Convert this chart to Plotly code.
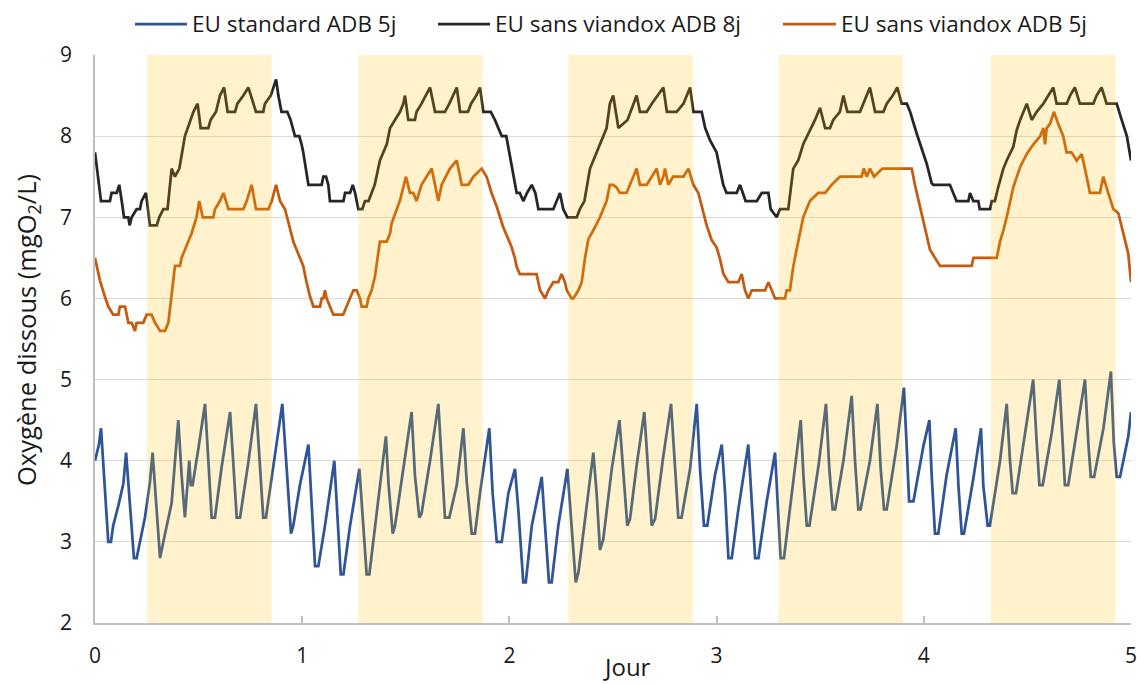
import plotly.graph_objects as go

# Time axis in days, dissolved oxygen in mgO2/L
std_x = [0, 0.008, 0.019, 0.029, 0.04, 0.053, 0.064, 0.077, 0.088, 0.113, 0.137, 0.15, 0.158, 0.177, 0.188, 0.201,
         0.217, 0.241, 0.265, 0.278, 0.294, 0.314, 0.338, 0.37, 0.402, 0.418, 0.434, 0.455, 0.462, 0.471, 0.499,
         0.531, 0.547, 0.563, 0.579, 0.611, 0.652, 0.668, 0.684, 0.7, 0.74, 0.777, 0.793, 0.812, 0.825, 0.861,
         0.904, 0.922, 0.946, 0.957, 0.989, 1.03, 1.046, 1.062, 1.078, 1.11, 1.155, 1.166, 1.186, 1.199, 1.231,
         1.276, 1.292, 1.311, 1.324, 1.359, 1.404, 1.417, 1.437, 1.448, 1.488, 1.528, 1.544, 1.565, 1.576, 1.617,
         1.657, 1.673, 1.689, 1.71, 1.746, 1.778, 1.794, 1.818, 1.834, 1.858, 1.903, 1.919, 1.939, 1.963, 1.995,
         2.027, 2.043, 2.067, 2.079, 2.108, 2.156, 2.172, 2.191, 2.204, 2.236, 2.28, 2.3, 2.32, 2.333, 2.365,
         2.405, 2.421, 2.437, 2.453, 2.494, 2.531, 2.55, 2.569, 2.582, 2.614, 2.651, 2.67, 2.687, 2.703, 2.743,
         2.78, 2.8, 2.815, 2.831, 2.872, 2.904, 2.92, 2.939, 2.955, 2.992, 3.025, 3.041, 3.057, 3.073, 3.105,
         3.153, 3.169, 3.186, 3.202, 3.242, 3.282, 3.298, 3.309, 3.325, 3.362, 3.406, 3.419, 3.435, 3.448, 3.492,
         3.528, 3.544, 3.56, 3.572, 3.612, 3.652, 3.668, 3.684, 3.695, 3.74, 3.776, 3.792, 3.808, 3.821, 3.869,
         3.904, 3.917, 3.929, 3.95, 3.998, 4.027, 4.038, 4.054, 4.07, 4.11, 4.154, 4.167, 4.183, 4.194, 4.239,
         4.276, 4.287, 4.308, 4.319, 4.368, 4.4, 4.416, 4.429, 4.445, 4.489, 4.528, 4.545, 4.558, 4.574, 4.617,
         4.654, 4.67, 4.681, 4.697, 4.737, 4.778, 4.794, 4.806, 4.822, 4.867, 4.903, 4.917, 4.931, 4.947, 4.963,
         4.987, 5.0]
std_y = [4.0, 4.1, 4.2, 4.4, 4.0, 3.4, 3.0, 3.0, 3.2, 3.45, 3.72, 4.1, 3.8, 3.1, 2.8, 2.8,
         3.0, 3.3, 3.73, 4.1, 3.52, 2.8, 3.1, 3.48, 4.5, 3.82, 3.3, 4.0, 3.7, 3.7, 4.15,
         4.7, 4.0, 3.3, 3.3, 3.92, 4.6, 3.94, 3.3, 3.3, 3.98, 4.7, 4.02, 3.3, 3.3, 3.92,
         4.7, 4.02, 3.1, 3.2, 3.7, 4.2, 3.5, 2.7, 2.7, 3.2, 4.0, 3.5, 2.6, 2.6, 3.2,
         3.9, 3.3, 2.6, 2.6, 3.35, 4.3, 3.7, 3.1, 3.2, 3.9, 4.6, 3.82, 3.3, 3.35, 4.0,
         4.7, 3.94, 3.3, 3.3, 3.7, 4.4, 3.74, 3.1, 3.1, 3.6, 4.4, 3.6, 3.0, 3.0, 3.6,
         3.9, 3.4, 2.5, 2.5, 3.2, 3.8, 3.2, 2.5, 2.5, 3.2, 3.9, 3.2, 2.5, 2.62, 3.28,
         4.1, 3.6, 2.9, 3.03, 3.9, 4.5, 3.8, 3.2, 3.28, 3.94, 4.6, 3.82, 3.2, 3.28, 4.06,
         4.7, 3.9, 3.3, 3.3, 3.9, 4.7, 3.9, 3.2, 3.2, 3.82, 4.2, 3.6, 2.8, 2.8, 3.4,
         4.2, 3.5, 2.8, 2.8, 3.5, 4.1, 3.4, 2.8, 2.8, 3.6, 4.5, 3.82, 3.2, 3.2, 3.94,
         4.7, 3.9, 3.4, 3.4, 4.0, 4.8, 4.0, 3.4, 3.4, 4.0, 4.7, 3.9, 3.4, 3.4, 4.18,
         4.9, 4.2, 3.5, 3.5, 4.18, 4.5, 3.82, 3.1, 3.1, 3.82, 4.4, 3.7, 3.1, 3.1, 3.78,
         4.4, 3.7, 3.2, 3.2, 4.0, 4.7, 4.0, 3.6, 3.6, 4.34, 5.0, 4.22, 3.7, 3.7, 4.34,
         5.0, 4.22, 3.7, 3.7, 4.34, 5.0, 4.22, 3.8, 3.8, 4.4, 5.1, 4.22, 3.8, 3.8, 4.0,
         4.3, 4.6]

nv8_x = [0, 0.019, 0.029, 0.072, 0.08, 0.105, 0.117, 0.129, 0.14, 0.161, 0.167, 0.177, 0.201, 0.217, 0.225,
         0.246, 0.265, 0.298, 0.31, 0.33, 0.35, 0.37, 0.386, 0.407, 0.434, 0.475, 0.495, 0.51, 0.547, 0.558,
         0.584, 0.603, 0.623, 0.64, 0.676, 0.687, 0.716, 0.74, 0.777, 0.812, 0.82, 0.848, 0.874, 0.885, 0.9,
         0.928, 0.944, 0.965, 0.986, 0.997, 1.005, 1.03, 1.094, 1.102, 1.115, 1.126, 1.134, 1.199, 1.207, 1.231,
         1.244, 1.255, 1.271, 1.29, 1.303, 1.32, 1.335, 1.35, 1.375, 1.408, 1.424, 1.448, 1.472, 1.488, 1.496,
         1.512, 1.544, 1.552, 1.576, 1.617, 1.641, 1.689, 1.71, 1.746, 1.762, 1.8, 1.815, 1.84, 1.858, 1.874,
         1.91, 1.93, 1.963, 1.985, 2.0, 2.035, 2.05, 2.067, 2.085, 2.108, 2.125, 2.14, 2.212, 2.228, 2.244,
         2.26, 2.28, 2.325, 2.34, 2.362, 2.389, 2.405, 2.437, 2.469, 2.485, 2.501, 2.526, 2.57, 2.614, 2.63,
         2.663, 2.687, 2.743, 2.76, 2.807, 2.84, 2.872, 2.888, 2.928, 2.945, 2.968, 3.0, 3.032, 3.048, 3.097,
         3.113, 3.14, 3.162, 3.194, 3.218, 3.25, 3.261, 3.29, 3.306, 3.346, 3.37, 3.394, 3.418, 3.45, 3.475,
         3.499, 3.524, 3.547, 3.563, 3.595, 3.612, 3.631, 3.692, 3.708, 3.74, 3.765, 3.805, 3.821, 3.85, 3.872,
         3.893, 3.918, 3.934, 3.966, 3.982, 4.014, 4.038, 4.046, 4.126, 4.142, 4.158, 4.215, 4.223, 4.239, 4.263,
         4.27, 4.32, 4.328, 4.343, 4.359, 4.384, 4.4, 4.432, 4.448, 4.465, 4.497, 4.513, 4.521, 4.545, 4.577,
         4.601, 4.625, 4.641, 4.69, 4.706, 4.729, 4.753, 4.818, 4.834, 4.858, 4.882, 4.931, 4.955, 4.98, 5.0]
nv8_y = [7.8, 7.37, 7.2, 7.2, 7.3, 7.3, 7.4, 7.2, 7.0, 7.0, 6.9, 7.0, 7.1, 7.1, 7.2,
         7.3, 6.9, 6.9, 7.0, 7.1, 7.1, 7.6, 7.5, 7.6, 8.0, 8.3, 8.4, 8.1, 8.1, 8.2,
         8.3, 8.5, 8.6, 8.3, 8.3, 8.4, 8.5, 8.6, 8.3, 8.3, 8.4, 8.5, 8.7, 8.5, 8.3,
         8.3, 8.2, 8.0, 8.0, 7.9, 7.8, 7.4, 7.4, 7.5, 7.5, 7.4, 7.2, 7.2, 7.3, 7.3,
         7.4, 7.3, 7.1, 7.1, 7.2, 7.2, 7.3, 7.4, 7.7, 7.9, 8.1, 8.2, 8.3, 8.4, 8.5,
         8.2, 8.2, 8.3, 8.4, 8.6, 8.3, 8.3, 8.4, 8.6, 8.3, 8.3, 8.4, 8.5, 8.6, 8.3,
         8.3, 8.2, 8.0, 8.0, 7.8, 7.3, 7.3, 7.2, 7.3, 7.4, 7.3, 7.1, 7.1, 7.2, 7.3,
         7.1, 7.0, 7.0, 7.1, 7.2, 7.6, 7.7, 7.9, 8.1, 8.4, 8.5, 8.1, 8.2, 8.5, 8.3,
         8.3, 8.4, 8.6, 8.3, 8.3, 8.4, 8.6, 8.3, 8.3, 8.1, 7.95, 7.8, 7.4, 7.3, 7.3,
         7.4, 7.2, 7.2, 7.2, 7.3, 7.3, 7.1, 7.0, 7.1, 7.1, 7.6, 7.7, 7.9, 8.07, 8.2,
         8.35, 8.1, 8.1, 8.2, 8.3, 8.5, 8.3, 8.3, 8.4, 8.6, 8.3, 8.3, 8.4, 8.5, 8.6,
         8.4, 8.4, 8.3, 8.03, 7.9, 7.66, 7.42, 7.4, 7.4, 7.3, 7.2, 7.2, 7.3, 7.2, 7.2,
         7.1, 7.1, 7.2, 7.2, 7.37, 7.6, 7.7, 7.87, 8.07, 8.2, 8.4, 8.28, 8.2, 8.3, 8.4,
         8.5, 8.6, 8.4, 8.4, 8.5, 8.6, 8.4, 8.4, 8.5, 8.6, 8.4, 8.4, 8.2, 8.0, 7.7]

nv5_x = [0, 0.024, 0.048, 0.064, 0.088, 0.113, 0.12, 0.145, 0.161, 0.177, 0.193, 0.201, 0.233, 0.249, 0.273,
         0.29, 0.314, 0.338, 0.354, 0.37, 0.386, 0.41, 0.418, 0.434, 0.466, 0.49, 0.503, 0.52, 0.571, 0.579,
         0.603, 0.62, 0.644, 0.716, 0.732, 0.756, 0.777, 0.837, 0.853, 0.874, 0.893, 0.917, 0.941, 0.957, 0.973,
         0.989, 1.005, 1.021, 1.038, 1.054, 1.086, 1.094, 1.102, 1.11, 1.118, 1.134, 1.15, 1.166, 1.198, 1.214,
         1.231, 1.247, 1.263, 1.279, 1.287, 1.311, 1.319, 1.335, 1.351, 1.375, 1.408, 1.424, 1.431, 1.455, 1.472,
         1.488, 1.501, 1.52, 1.536, 1.552, 1.576, 1.6, 1.625, 1.641, 1.657, 1.673, 1.713, 1.746, 1.77, 1.802,
         1.826, 1.866, 1.89, 1.914, 1.939, 1.97, 1.995, 2.011, 2.027, 2.035, 2.05, 2.131, 2.148, 2.172, 2.188,
         2.212, 2.236, 2.252, 2.268, 2.277, 2.3, 2.309, 2.333, 2.349, 2.365, 2.381, 2.405, 2.437, 2.469, 2.485,
         2.5, 2.517, 2.533, 2.565, 2.598, 2.614, 2.63, 2.663, 2.687, 2.711, 2.727, 2.743, 2.751, 2.767, 2.79,
         2.84, 2.864, 2.888, 2.912, 2.928, 2.952, 2.976, 3.0, 3.016, 3.033, 3.057, 3.105, 3.121, 3.137, 3.153,
         3.17, 3.234, 3.25, 3.266, 3.282, 3.33, 3.338, 3.354, 3.37, 3.386, 3.418, 3.45, 3.49, 3.524, 3.555,
         3.595, 3.7, 3.71, 3.725, 3.74, 3.76, 3.8, 3.942, 3.957, 3.982, 4.006, 4.03, 4.054, 4.078, 4.231,
         4.24, 4.352, 4.368, 4.384, 4.4, 4.432, 4.465, 4.497, 4.529, 4.562, 4.577, 4.585, 4.593, 4.609, 4.628,
         4.649, 4.673, 4.689, 4.713, 4.738, 4.762, 4.786, 4.802, 4.85, 4.866, 4.89, 4.915, 4.939, 4.963, 4.987,
         5.0]
nv5_y = [6.5, 6.22, 6.02, 5.9, 5.8, 5.8, 5.9, 5.9, 5.7, 5.7, 5.6, 5.7, 5.7, 5.8, 5.8,
         5.7, 5.6, 5.6, 5.7, 6.02, 6.4, 6.4, 6.5, 6.6, 6.8, 7.0, 7.2, 7.0, 7.0, 7.1,
         7.2, 7.3, 7.1, 7.1, 7.2, 7.4, 7.1, 7.1, 7.2, 7.4, 7.2, 7.1, 6.88, 6.7, 6.6,
         6.5, 6.4, 6.2, 6.02, 5.9, 5.9, 6.0, 6.0, 6.1, 6.0, 5.9, 5.8, 5.8, 5.8, 5.9,
         6.0, 6.1, 6.1, 6.0, 5.9, 5.9, 6.0, 6.1, 6.27, 6.7, 6.7, 6.8, 6.92, 7.09, 7.21,
         7.37, 7.5, 7.3, 7.3, 7.2, 7.4, 7.5, 7.6, 7.4, 7.2, 7.4, 7.6, 7.7, 7.4, 7.4,
         7.5, 7.6, 7.5, 7.3, 7.13, 6.88, 6.72, 6.63, 6.49, 6.39, 6.3, 6.3, 6.1, 6.0, 6.1,
         6.2, 6.2, 6.3, 6.2, 6.1, 6.0, 6.0, 6.1, 6.2, 6.5, 6.73, 6.84, 7.0, 7.2, 7.4,
         7.4, 7.37, 7.3, 7.3, 7.5, 7.6, 7.4, 7.4, 7.5, 7.6, 7.4, 7.5, 7.6, 7.4, 7.5,
         7.5, 7.6, 7.4, 7.3, 7.13, 6.9, 6.72, 6.63, 6.49, 6.3, 6.2, 6.2, 6.3, 6.1, 6.0,
         6.1, 6.1, 6.2, 6.1, 6.0, 6.0, 6.1, 6.1, 6.39, 6.6, 7.0, 7.2, 7.3, 7.3, 7.4,
         7.5, 7.5, 7.6, 7.5, 7.6, 7.5, 7.6, 7.6, 7.4, 7.13, 6.88, 6.6, 6.5, 6.4, 6.4,
         6.5, 6.5, 6.7, 6.84, 7.0, 7.37, 7.62, 7.78, 7.9, 8.0, 8.1, 7.9, 8.1, 8.15, 8.3,
         8.15, 8.0, 7.8, 7.8, 7.7, 7.78, 7.5, 7.3, 7.3, 7.5, 7.3, 7.1, 7.05, 6.8, 6.55,
         6.2]

# Daylight periods (days)
light_start = [0.251, 1.271, 2.284, 3.298, 4.324]
light_end = [0.853, 1.871, 2.885, 3.898, 4.926]

x_ticks = [0, 1, 2, 3, 4, 5]
y_ticks = [2, 3, 4, 5, 6, 7, 8, 9]

series_names = ["EU standard ADB 5j", "EU sans viandox ADB 8j", "EU sans viandox ADB 5j"]
series_colors = ["#2F5597", "#262626", "#C55A11"]
series_x = [std_x, nv8_x, nv5_x]
series_y = [std_y, nv8_y, nv5_y]

FONT = "Open Sans"
TEXT_COLOR = "#1a1a1a"
W, H = 1137, 684
M_L, M_R, M_T, M_B = 95, 6, 55, 61
plot_w = W - M_L - M_R
plot_h = H - M_T - M_B


def px_to_paper_x(px):
    return (px - M_L) / plot_w


def px_to_paper_y(py):
    return (H - M_B - py) / plot_h


fig = go.Figure()
for name, color, xs, ys in zip(series_names, series_colors, series_x, series_y):
    fig.add_trace(go.Scatter(x=xs, y=ys, mode="lines", name=name,
                             line=dict(color=color, width=2.75), showlegend=False))

shapes = []
# Translucent daylight bands sitting over the curves
for x0, x1 in zip(light_start, light_end):
    shapes.append(dict(type="rect", xref="x", yref="y", x0=x0, x1=x1, y0=2, y1=9,
                       fillcolor="rgba(255,192,0,0.2)", line=dict(width=0), layer="above"))

# Legend row at the top
annotations = []
legend_line_px = [(135, 187), (438, 490), (783, 836)]
legend_y = px_to_paper_y(24)
for (a, b), name, color in zip(legend_line_px, series_names, series_colors):
    shapes.append(dict(type="line", xref="paper", yref="paper",
                       x0=px_to_paper_x(a), x1=px_to_paper_x(b), y0=legend_y, y1=legend_y,
                       line=dict(color=color, width=2.75)))
    annotations.append(dict(text=name, xref="paper", yref="paper", x=px_to_paper_x(b + 3), y=legend_y,
                            xanchor="left", yanchor="middle", showarrow=False,
                            font=dict(family=FONT, size=22.5, color=TEXT_COLOR)))

# Axis titles
annotations.append(dict(text="Jour", xref="paper", yref="paper", x=px_to_paper_x(627), y=px_to_paper_y(667),
                        xanchor="center", yanchor="middle", showarrow=False,
                        font=dict(family=FONT, size=24, color=TEXT_COLOR)))
annotations.append(dict(text="Oxygène dissous (mgO<sub>2</sub>/L)", xref="paper", yref="paper",
                        x=px_to_paper_x(27), y=px_to_paper_y(330), textangle=-90,
                        xanchor="center", yanchor="middle", showarrow=False,
                        font=dict(family=FONT, size=25.5, color=TEXT_COLOR)))

fig.update_layout(
    width=W, height=H,
    margin=dict(l=M_L, r=M_R, t=M_T, b=M_B),
    paper_bgcolor="white", plot_bgcolor="white",
    font=dict(family=FONT, size=21, color=TEXT_COLOR),
    shapes=shapes, annotations=annotations,
    showlegend=False,
    xaxis=dict(range=[0, 5], tickvals=x_ticks, showgrid=False, zeroline=False, automargin=False,
               showline=True, linecolor="#BFBFBF", linewidth=1.5,
               ticks="inside", ticklen=7, tickwidth=1.5, tickcolor="#BFBFBF",
               ticklabeloverflow="allow", ticklabelstandoff=13,
               tickfont=dict(family=FONT, size=21, color=TEXT_COLOR)),
    yaxis=dict(range=[2, 9], tickvals=y_ticks, showgrid=True, gridcolor="#D9D9D9", gridwidth=1.2,
               zeroline=False, automargin=False, showline=True, linecolor="#BFBFBF", linewidth=1.5,
               ticks="", ticklabelstandoff=17, tickfont=dict(family=FONT, size=21, color=TEXT_COLOR)),
)

fig.write_html("out.html")
